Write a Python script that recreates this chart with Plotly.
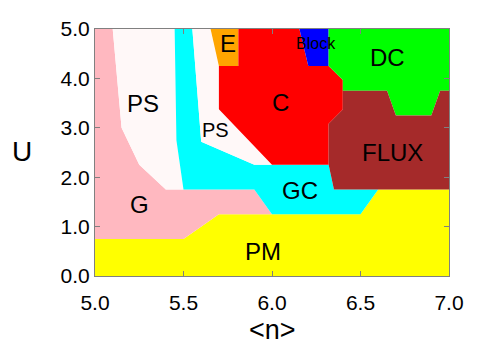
import plotly.graph_objects as go

# Phase regions: polygon vertices in (<n>, U) data coordinates
regions = ["PM", "G", "PS1", "GC", "PS2", "E", "C", "Block", "DC", "FLUX"]
colors = ["#ffff00", "#ffb8c0", "#fff8f8", "#00ffff", "#fff8f8", "#ffa500",
          "#ff0000", "#0000ff", "#00ff00", "#a52a2a"]

PM_x = [5.0, 7.0, 7.0, 6.6, 6.5, 5.7, 5.5, 5.0]
PM_y = [0.0, 0.0, 1.75, 1.75, 1.25, 1.25, 0.75, 0.75]

G_x = [5.0, 5.5, 5.7, 6.0, 5.9, 5.4, 5.25, 5.15, 5.1, 5.0]
G_y = [0.75, 0.75, 1.25, 1.25, 1.75, 1.75, 2.25, 3.0, 5.0, 5.0]

PS1_x = [5.1, 5.45, 5.46, 5.5, 5.4, 5.25, 5.15]
PS1_y = [5.0, 5.0, 2.75, 1.75, 1.75, 2.25, 3.0]

GC_x = [5.45, 5.55, 5.6, 5.9, 6.32, 6.35, 6.6, 6.5, 6.0, 5.9, 5.5, 5.46]
GC_y = [5.0, 5.0, 2.72, 2.25, 2.25, 1.75, 1.75, 1.25, 1.25, 1.75, 1.75, 2.75]

PS2_x = [5.55, 5.653, 5.7, 5.7, 6.0, 5.9, 5.6]
PS2_y = [5.0, 5.0, 4.25, 3.375, 2.25, 2.25, 2.72]

E_x = [5.653, 5.81, 5.81, 5.7]
E_y = [5.0, 5.0, 4.25, 4.25]

C_x = [5.81, 6.155, 6.205, 6.32, 6.40, 6.40, 6.32, 6.32, 6.0, 5.7, 5.7, 5.81]
C_y = [5.0, 5.0, 4.25, 4.25, 3.97, 3.37, 3.08, 2.25, 2.25, 3.375, 4.25, 4.25]

Block_x = [6.155, 6.32, 6.32, 6.205]
Block_y = [5.0, 5.0, 4.25, 4.25]

DC_x = [6.32, 7.0, 7.0, 6.95, 6.9, 6.7, 6.65, 6.40, 6.40, 6.32]
DC_y = [5.0, 5.0, 3.75, 3.75, 3.25, 3.25, 3.75, 3.75, 3.97, 4.25]

FLUX_x = [6.40, 6.65, 6.7, 6.9, 6.95, 7.0, 7.0, 6.35, 6.32, 6.32, 6.40]
FLUX_y = [3.75, 3.75, 3.25, 3.25, 3.75, 3.75, 1.75, 1.75, 2.25, 3.08, 3.37]

polys_x = [PM_x, G_x, PS1_x, GC_x, PS2_x, E_x, C_x, Block_x, DC_x, FLUX_x]
polys_y = [PM_y, G_y, PS1_y, GC_y, PS2_y, E_y, C_y, Block_y, DC_y, FLUX_y]

# Region labels
label_text = ["PS", "PS", "E", "Block", "DC", "C", "FLUX", "GC", "G", "PM"]
label_x = [5.27, 5.68, 5.75, 6.25, 6.655, 6.05, 6.68, 6.16, 5.25, 5.95]
label_y = [3.5, 2.95, 4.70, 4.70, 4.43, 3.52, 2.49, 1.74, 1.44, 0.49]
label_size = [24, 20, 24, 16, 24, 24, 24, 24, 24, 24]

x_ticks = [5.0, 5.5, 6.0, 6.5, 7.0]
x_ticktext = ["5.0", "5.5", "6.0", "6.5", "7.0"]
y_ticks = [0.0, 1.0, 2.0, 3.0, 4.0, 5.0]
y_ticktext = ["0.0", "1.0", "2.0", "3.0", "4.0", "5.0"]

FONT = "Liberation Sans, Arial, sans-serif"

fig = go.Figure()
for name, c, px, py in zip(regions, colors, polys_x, polys_y):
    fig.add_trace(go.Scatter(x=px + [px[0]], y=py + [py[0]], mode="lines",
                             fill="toself", fillcolor=c,
                             line=dict(width=0, color=c),
                             name=name, showlegend=False, hoverinfo="skip"))

for t, lx, ly, s in zip(label_text, label_x, label_y, label_size):
    fig.add_annotation(x=lx, y=ly, text=t, showarrow=False,
                       font=dict(size=s, color="black", family=FONT))

# Axis titles as annotations (upright "U")
fig.add_annotation(x=0, y=0.5, xref="paper", yref="paper", text="U",
                   showarrow=False, xanchor="center", yanchor="middle",
                   xshift=-73, yshift=1,
                   font=dict(size=28, color="black", family=FONT))
fig.add_annotation(x=0.5, y=0, xref="paper", yref="paper", text="&lt;n&gt;",
                   showarrow=False, xanchor="center", yanchor="middle",
                   yshift=-54, borderpad=0,
                   font=dict(size=27, color="black", family=FONT))

axis_common = dict(showline=True, linecolor="#808080", linewidth=1, mirror="ticks",
                   ticks="inside", ticklen=5, tickcolor="#808080",
                   showgrid=False, zeroline=False, automargin=False,
                   tickfont=dict(size=21, color="black", family=FONT))

fig.update_xaxes(range=[5.0, 7.0], tickvals=x_ticks, ticktext=x_ticktext,
                 ticklabelstandoff=8, **axis_common)
fig.update_yaxes(range=[0.0, 5.0], tickvals=y_ticks, ticktext=y_ticktext,
                 **axis_common)

fig.update_layout(width=488, height=339,
                  margin=dict(l=87, r=47, t=21, b=71),
                  paper_bgcolor="white", plot_bgcolor="white",
                  font=dict(family=FONT, color="black"))

fig.write_html("out.html")
